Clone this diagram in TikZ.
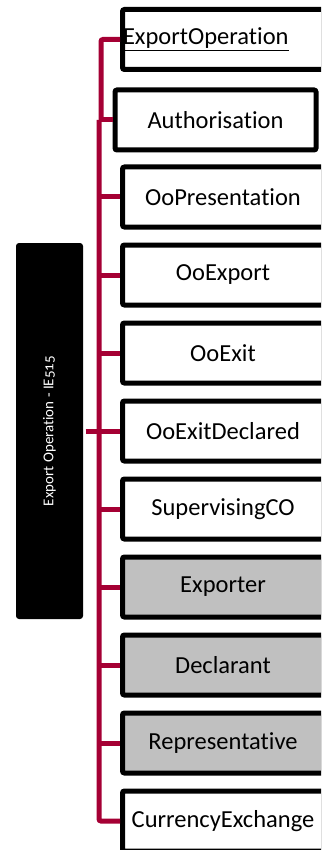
\documentclass[tikz,border=0pt]{standalone}
\usepackage{fontspec}
\setmainfont{Carlito}[Numbers=OldStyle, Ligatures=NoCommon]
\definecolor{wirered}{HTML}{A50034}
\definecolor{boxgray}{HTML}{C0C0C0}
\begin{document}
\begin{tikzpicture}[x=1pt, y=-1pt,
                    line width=5pt,
                    font=\fontsize{24.5}{28}\selectfont]
    \tikzstyle{entity}=[draw=black, fill=white, line width=5pt, rounded corners=2pt,
                        minimum width=201pt, minimum height=60pt, inner sep=0pt]
    \tikzstyle{party}=[entity, fill=boxgray]
    \tikzstyle{message}=[fill=black, text=white, rounded corners=3pt, rotate=90,
                         minimum width=376pt, minimum height=67pt,
                         font=\fontsize{15}{17}\selectfont]
    \tikzstyle{wire}=[draw=wirered, line width=5pt]

    \useasboundingbox (0,0) rectangle (321,850);
    \clip (0,0) rectangle (321,850);

    \node[message] (root) at (49.5,431) {Export Operation - IE515};

    \node[entity, text width=200pt, align=left] (expop) at (223,39.5) {\underline{ExportOperation}};
    \node[entity] (auth) at (215.5,120) {Authorisation};
    \node[entity] (oopres) at (223,197) {OoPresentation};
    \node[entity] (ooexp) at (223,275) {OoExport};
    \node[entity] (ooexit) at (223,353) {OoExit};
    \node[entity] (ooexitdecl) at (223,431) {OoExitDeclared};
    \node[entity] (superco) at (223,509) {SupervisingCO};
    \node[party] (exporter) at (223,587) {Exporter};
    \node[party] (declarant) at (223,665) {Declarant};
    \node[party] (repr) at (223,743) {Representative};
    \node[entity] (currex) at (223,821) {CurrencyExchange};

    % bus and branches
    \coordinate (bus) at (99,120);
    \coordinate (expbranch) at (101,120);
    \draw[wire, rounded corners=2pt] (auth.west -| bus) -- (currex.west -| bus) -- (currex.west);
    \draw[wire] (root.south) -- (root.south -| bus);
    \foreach \n in {auth,oopres,ooexp,ooexit,ooexitdecl,superco,exporter,declarant,repr}
        \draw[wire] (\n.west -| bus) -- (\n.west);
    \draw[wire, rounded corners=2pt] (expbranch) |- (expop.west);
\end{tikzpicture}
\end{document}
